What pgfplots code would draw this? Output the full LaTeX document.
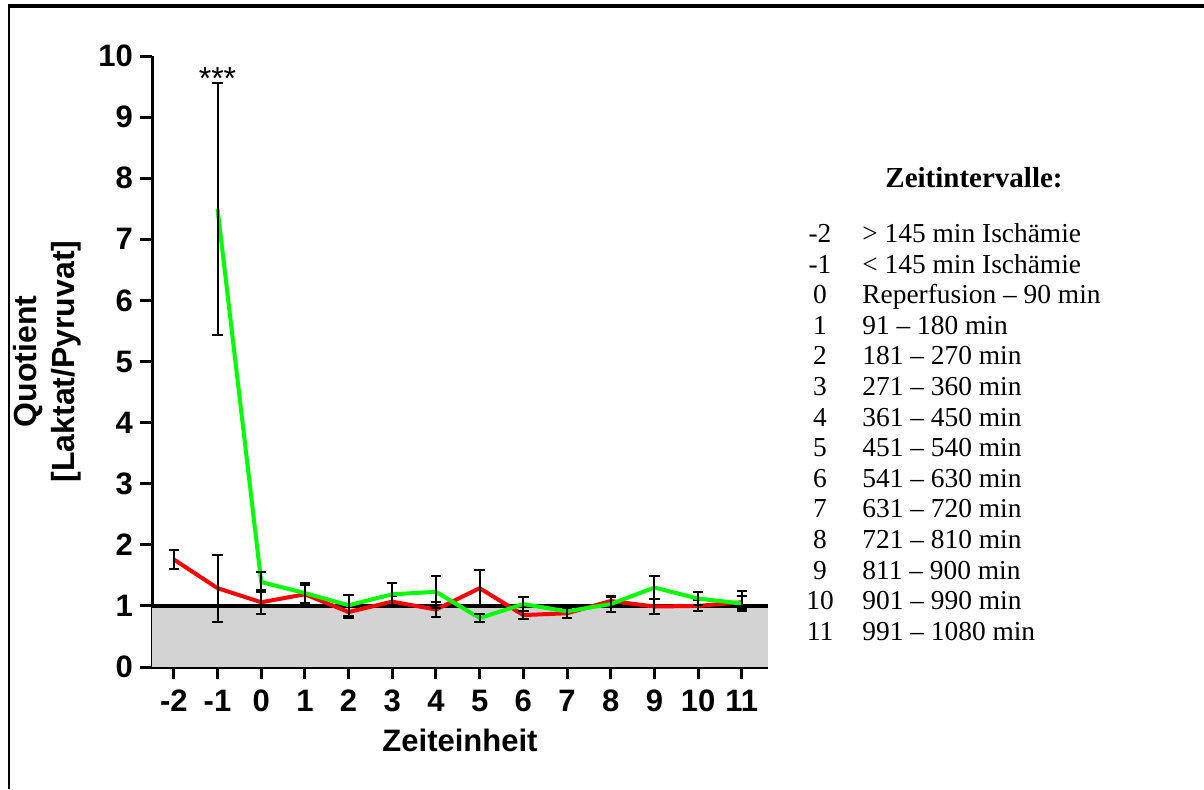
\documentclass[border=0pt]{standalone}
\usepackage{pgfplots}
\pgfplotsset{compat=1.18}
\usepackage{fontspec}
\setmainfont{Liberation Serif}
\newfontfamily\arial{Liberation Sans}
\definecolor{pgreen}{RGB}{0,255,0}
\definecolor{pred}{RGB}{255,0,0}
\definecolor{pgray}{RGB}{211,211,211}
\begin{document}
\begin{tikzpicture}
\path[use as bounding box] (0,0) rectangle (602pt,394.5pt);
\draw[line width=2pt] (4.5pt,391.5pt) -- (602pt,391.5pt);
\draw[line width=0.6pt] (4.5pt,392.5pt) -- (4.5pt,0);
\begin{axis}[
  at={(76pt,61pt)}, anchor=south west,
  scale only axis, width=308pt, height=305.5pt,
  xmin=-2.5, xmax=11.6, ymin=0, ymax=10,
  axis x line*=bottom, axis y line*=left,
  axis line style={line width=1.5pt, black},
  tick align=outside, major tick length=6pt,
  tick style={line width=1.5pt, black},
  xtick={-2,-1,0,1,2,3,4,5,6,7,8,9,10,11},
  xticklabels={-2,-1,0,1,2,3,4,5,6,7,8,9,10,11},
  ytick={0,1,2,3,4,5,6,7,8,9,10},
  yticklabels={0,1,2,3,4,5,6,7,8,9,10},
  tick label style={font=\arial\bfseries\fontsize{15.5}{15.5}\selectfont},
  xticklabel style={yshift=-2pt},
  /pgf/number format/assume math mode=true,
  xlabel={Zeiteinheit},
  xlabel style={font=\arial\bfseries\fontsize{15.5}{18}\selectfont, at={(axis description cs:0.5,0)}, anchor=center, yshift=-36.5pt},
  ylabel={Quotient\\{[}Laktat/Pyruvat{]}},
  ylabel style={font=\arial\bfseries\fontsize{16}{19}\selectfont, align=center, at={(axis description cs:-0.103,0.5)}, anchor=south},
  clip=false,
  error bars/error bar style={black, line width=1pt},
  error bars/error mark options={rotate=90, black, mark size=2.6pt, line width=1pt},
]
\addplot[draw=none, fill=pgray] coordinates {(-2.5,1) (11.6,1)} \closedcycle;
\addplot[black, line width=1.8pt] coordinates {(-2.5,1) (11.6,1)};
\addplot[pred, line width=2pt, mark=none,
  error bars/.cd, y dir=both, y explicit] coordinates {
  (-2,1.76) +- (0,0.15)
  (-1,1.29) +- (0,0.55)
  (0,1.06) +- (0,0.20)
  (1,1.19) +- (0,0.16)
  (2,0.90) +- (0,0.09)
  (3,1.07) +- (0,0.09)
  (4,0.94) +- (0,0.12)
  (5,1.29) +- (0,0.30)
  (6,0.85) +- (0,0.06)
  (7,0.88) +- (0,0.07)
  (8,1.08) +- (0,0.07)
  (9,0.99) +- (0,0.12)
  (10,1.00) +- (0,0.09)
  (11,1.06) +- (0,0.11)
};
\addplot[pgreen, line width=2pt, mark=none,
  error bars/.cd, y dir=both, y explicit] coordinates {
  (-1,7.50) +- (0,2.06)
  (0,1.39) +- (0,0.17)
  (1,1.21) +- (0,0.17)
  (2,1.01) +- (0,0.17)
  (3,1.19) +- (0,0.18)
  (4,1.23) +- (0,0.26)
  (5,0.80) +- (0,0.07)
  (6,1.03) +- (0,0.11)
  (7,0.91) +- (0,0.10)
  (8,1.03) +- (0,0.13)
  (9,1.30) +- (0,0.19)
  (10,1.12) +- (0,0.11)
  (11,1.04) += (0,0.21) -= (0,0.13)
};
\node[font=\arial\fontsize{16}{16}\selectfont, anchor=south, inner sep=1pt, yshift=-5pt] at (axis cs:-1,9.58) {***};
\end{axis}
\node[font=\bfseries\fontsize{14.5}{15}\selectfont] at (487pt,305.5pt) {Zeitintervalle:};
\foreach \n/\t [count=\i from 0] in {-2/{> 145 min Ischämie},-1/{< 145 min Ischämie},0/{Reperfusion -- 90 min},1/{91 -- 180 min},2/{181 -- 270 min},3/{271 -- 360 min},4/{361 -- 450 min},5/{451 -- 540 min},6/{541 -- 630 min},7/{631 -- 720 min},8/{721 -- 810 min},9/{811 -- 900 min},10/{901 -- 990 min},11/{991 -- 1080 min}} {
  \pgfmathsetmacro{\yy}{(789-(238+30.6*\i))/2}
  \node[font=\fontsize{13.7}{15}\selectfont, anchor=mid, inner sep=0pt] at (410pt,\yy pt) {\n};
  \node[font=\fontsize{13.7}{15}\selectfont, anchor=mid west, inner sep=0pt] at (431pt,\yy pt) {\t};
}
\end{tikzpicture}
\end{document}
